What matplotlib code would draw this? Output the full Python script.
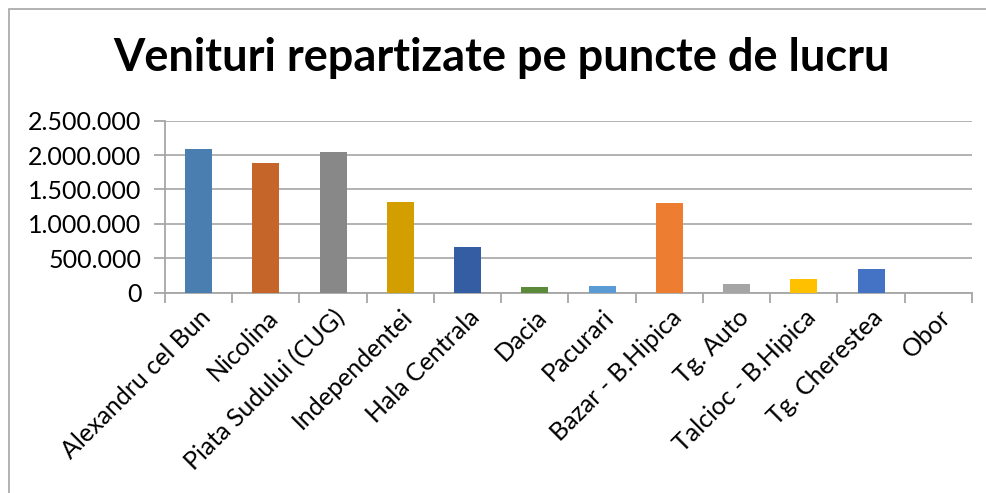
import matplotlib.pyplot as plt
from matplotlib.ticker import FuncFormatter, MultipleLocator
from matplotlib.patches import Rectangle

# puncte de lucru si venituri
puncte = ['Alexandru cel Bun', 'Nicolina', 'Piata Sudului (CUG)', 'Independentei',
          'Hala Centrala', 'Dacia', 'Pacurari', 'Bazar - B.Hipica', 'Tg. Auto',
          'Talcioc - B.Hipica', 'Tg. Cherestea', 'Obor']
venituri = [2087000, 1884000, 2044000, 1317000, 664000, 83000, 97000,
            1303000, 126000, 199000, 344000, 0]
culori = ['#4A7EB0', '#C5652A', '#888888', '#D39F00', '#355DA3', '#5B8B3A',
          '#5B9BD5', '#ED7D31', '#A5A5A5', '#FFC000', '#4472C4', '#70AD47']

plt.rcParams['font.family'] = ['Lato', 'DejaVu Sans']

fig = plt.figure(figsize=(9.87, 4.93), dpi=100)
fig.add_artist(Rectangle((9 / 987, -0.1), 1.2, 1 - 9 / 493 + 0.1,
                         transform=fig.transFigure, fill=False,
                         edgecolor='#A6A6A6', linewidth=1.2))

ax = fig.add_axes([165 / 987, 1 - 292.7 / 493, (972 - 165) / 987, (292.7 - 120.6) / 493])

x = list(range(len(puncte)))
ax.bar(x, venituri, width=0.4, color=culori, zorder=3)

ax.set_xlim(-0.5, len(puncte) - 0.5)
ax.set_ylim(0, 2500000)
ax.yaxis.set_major_locator(MultipleLocator(500000))
ax.yaxis.set_major_formatter(FuncFormatter(lambda v, p: f'{int(v):,}'.replace(',', '.')))
ax.grid(axis='y', color='#ADADAD', linewidth=1.3, zorder=0)

ax.set_xticks([i - 0.5 for i in range(len(puncte) + 1)], minor=False)
ax.set_xticklabels([])
ax.set_xticks(x, minor=True)
ax.set_xticklabels(puncte, minor=True, rotation=45, ha='right',
                   rotation_mode='anchor', fontsize=18)
ax.tick_params(axis='x', which='minor', length=0, pad=9)
ax.tick_params(axis='x', which='major', length=7, color='#A6A6A6', width=1.3)
ax.tick_params(axis='y', length=8, color='#A6A6A6', width=1.3, labelsize=18, pad=9)

for s in ['top', 'right']:
    ax.spines[s].set_visible(False)
for s in ['left', 'bottom']:
    ax.spines[s].set_color('#A6A6A6')
    ax.spines[s].set_linewidth(1.3)

fig.text(0.508, 1 - 58 / 493, 'Venituri repartizate pe puncte de lucru',
         ha='center', va='center', fontsize=32.5, fontweight='bold')

fig.savefig('out.png', dpi=100)
